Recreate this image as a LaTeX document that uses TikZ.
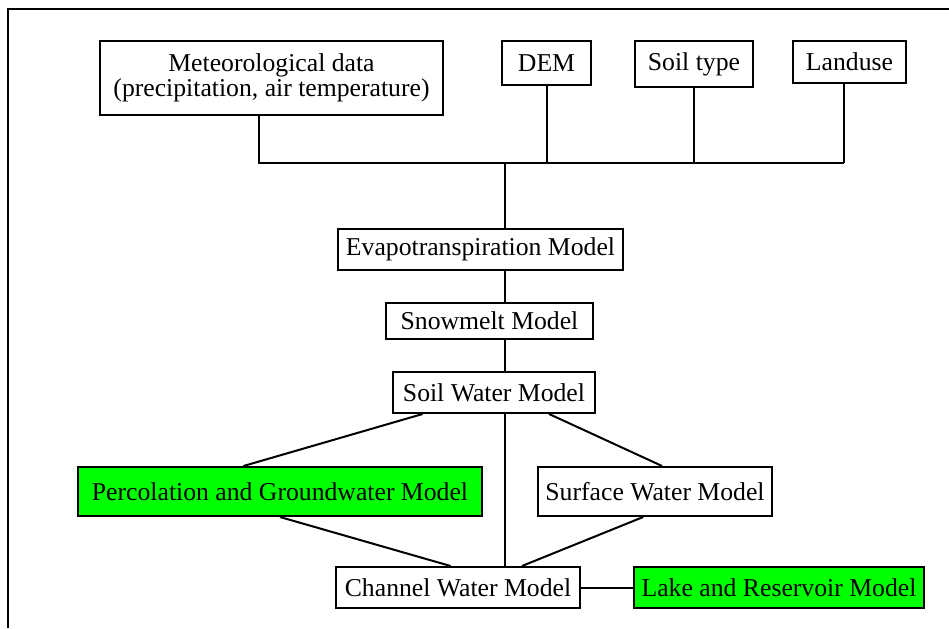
\documentclass[tikz,border=0pt]{standalone}
\usepackage{fontspec}
\setmainfont{Liberation Serif}
\usepackage{xcolor}
\usepackage{tikz}
\usetikzlibrary{calc}
\usetikzlibrary{positioning}
\tikzset{>=latex}
\tikzstyle{model} = [rectangle, draw=black, line width=1pt, fill=white, inner sep=0pt, font=\fontsize{12.85}{12.5}\selectfont]
\tikzstyle{green model} = [model, fill=green]
\tikzstyle{link} = [-, line width=1pt]

\begin{document}
\begin{tikzpicture}[x=0.5pt, y=-0.5pt]
\useasboundingbox (0,0) rectangle (949,628);
\draw [line width=1.2pt] (8,628) -- (8,9) -- (949,9);
% input data
\node [model, minimum width=171.5pt, minimum height=37pt, align=center] (met) at (271.5,78) {Meteorological data\\(precipitation, air temperature)};
\node [model, minimum width=44.5pt, minimum height=22pt] (dem) at (546.5,63) {DEM};
\node [model, minimum width=59pt, minimum height=23pt] (soil) at (694,64) {Soil type};
\node [model, minimum width=56.5pt, minimum height=21pt] (land) at (849.5,62) {Landuse};
% model chain
\node [model, minimum width=142.5pt, minimum height=20.5pt] (evap) at (480.5,249.5) {Evapotranspiration Model};
\node [model, minimum width=103.5pt, minimum height=18pt] (snow) at (489.5,321) {Snowmelt Model};
\node [model, minimum width=101pt, minimum height=20.5pt] (sw) at (494,392.5) {Soil Water Model};
\node [green model, minimum width=202pt, minimum height=24.5pt] (perc) at (280,491.5) {Percolation and Groundwater Model};
\node [model, minimum width=117pt, minimum height=24.5pt] (surf) at (655,491.5) {Surface Water Model};
\node [model, minimum width=122pt, minimum height=20.5pt] (chan) at (458,587.5) {Channel Water Model};
\node [green model, minimum width=145pt, minimum height=20.5pt] (lake) at (779,587.5) {Lake and Reservoir Model};
% bus
\coordinate (hub) at (504.5,163);
\coordinate (busE) at (844,163);
\draw [link] ($(met.south)+(-13,0)$) |- (busE);
\draw [link] (dem.south) -- (dem.south |- hub);
\draw [link] (soil.south) -- (soil.south |- hub);
\draw [link] (busE |- land.south) -- (busE);
\draw [link] (hub) -- (hub |- evap.north);
\draw [link] (hub |- evap.south) -- (hub |- snow.north);
\draw [link] (hub |- snow.south) -- (hub |- sw.north);
\draw [link] (hub |- sw.south) -- (hub |- chan.north);
% branches
\draw [link] ($(sw.south west)!0.15!(sw.south east)$) -- ($(perc.north west)!0.41!(perc.north east)$);
\draw [link] ($(sw.south west)!0.77!(sw.south east)$) -- ($(surf.north west)!0.53!(surf.north east)$);
\draw [link] (perc.south) -- ($(chan.north west)!0.47!(chan.north east)$);
\draw [link] ($(surf.south west)!0.45!(surf.south east)$) -- ($(chan.north west)!0.76!(chan.north east)$);
\draw [link] (chan) -- (lake);
\end{tikzpicture}
\end{document}
